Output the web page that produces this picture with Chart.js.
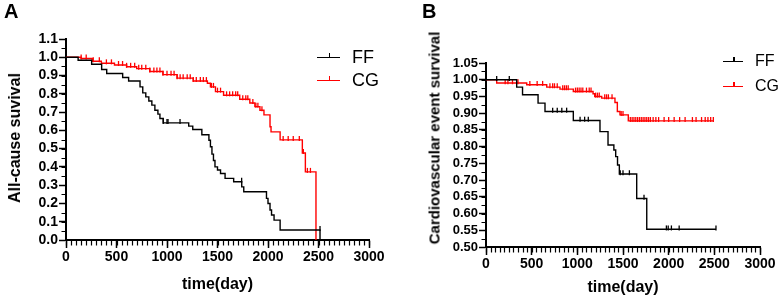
<!DOCTYPE html>
<html>
<head>
<meta charset="utf-8">
<script src="https://cdn.jsdelivr.net/npm/chart.js@4"></script>
<style>
  body { margin: 0; background: #fff; font-family: 'Liberation Sans', Arial, sans-serif; }
  #wrap { position: relative; width: 778px; height: 299px; overflow: hidden; }
  canvas { position: absolute; top: 0; }
  .lbl { position: absolute; font-weight: bold; color: #000; }
  .ytitle { position: absolute; font-weight: bold; white-space: nowrap; transform: translate(-50%, -50%) rotate(-90deg); }
  .leg { position: absolute; display: flex; align-items: center; color: #000; }
  .leg-ln { position: relative; height: 0; border-top: 1.5px solid; margin-right: 12px; }
  .leg-ln::after { content: ''; position: absolute; left: 50%; top: -5px; width: 1.5px; height: 4px; background: currentColor; }
</style>
</head>
<body>
<div id="wrap">
  <canvas id="cA" width="388" height="299" style="left:0"></canvas>
  <canvas id="cB" width="388" height="299" style="left:390px"></canvas>
  <div class="lbl" style="left:4px;top:0px;font-size:20px">A</div>
  <div class="lbl" style="left:422px;top:0px;font-size:20px">B</div>
  <div class="ytitle" style="left:15px;top:138px;font-size:16px">All-cause suvival</div>
  <div class="ytitle" style="left:434px;top:138px;font-size:15px">Cardiovascular event survival</div>
  <div class="leg" style="left:317px;top:47px;font-size:18px"><span class="leg-ln" style="width:23px;color:#000"></span>FF</div>
  <div class="leg" style="left:317px;top:70px;font-size:18px"><span class="leg-ln" style="width:23px;color:#f00"></span>CG</div>
  <div class="leg" style="left:723px;top:52px;font-size:16px"><span class="leg-ln" style="width:20px;color:#000"></span>FF</div>
  <div class="leg" style="left:723px;top:77px;font-size:16px"><span class="leg-ln" style="width:20px;color:#f00"></span>CG</div>
</div>
<script>
// panel A - all-cause survival (time in days, survival after each step)
const ffA_t = [0, 120, 254, 353, 403, 561, 620, 733, 760, 790, 820, 850, 880, 910, 930, 963, 1215, 1255, 1345, 1415, 1430, 1445, 1460, 1475, 1500, 1530, 1575, 1660, 1740, 1760, 1985, 2000, 2020, 2035, 2060, 2120, 2515];
const ffA_s = [1.0, 0.984, 0.962, 0.933, 0.911, 0.889, 0.870, 0.838, 0.805, 0.783, 0.761, 0.738, 0.710, 0.689, 0.665, 0.641, 0.623, 0.605, 0.576, 0.546, 0.510, 0.470, 0.435, 0.400, 0.383, 0.364, 0.337, 0.319, 0.291, 0.264, 0.228, 0.200, 0.164, 0.137, 0.109, 0.055, 0.0];
const ffA_cens = [963, 1000, 1010, 1129, 1739, 2515];

const cgA_t = [0, 150, 260, 350, 480, 600, 700, 830, 960, 1100, 1260, 1400, 1430, 1480, 1560, 1720, 1820, 1870, 1920, 1960, 2020, 2030, 2120, 2340, 2370, 2475];
const cgA_s = [1.0, 0.993, 0.978, 0.967, 0.958, 0.948, 0.938, 0.922, 0.905, 0.886, 0.870, 0.858, 0.838, 0.812, 0.792, 0.770, 0.750, 0.730, 0.710, 0.685, 0.620, 0.592, 0.548, 0.476, 0.373, 0.0];
const cgA_cens = [150, 200, 270, 330, 400, 450, 520, 560, 600, 640, 680, 720, 750, 790, 830, 870, 900, 930, 960, 1000, 1040, 1070, 1100, 1130, 1160, 1200, 1230, 1260, 1290, 1330, 1360, 1390, 1440, 1460, 1500, 1530, 1590, 1620, 1650, 1680, 1700, 1750, 1780, 1800, 1850, 1880, 1900, 1940, 2150, 2200, 2250, 2310, 2350, 2390, 2420];

// panel B - cardiovascular event survival
const ffB_t = [0, 336, 400, 570, 646, 956, 1248, 1336, 1400, 1420, 1440, 1460, 1650, 1760, 2518];
const ffB_s = [1.0, 0.978, 0.955, 0.930, 0.905, 0.878, 0.845, 0.805, 0.790, 0.770, 0.745, 0.718, 0.645, 0.553, 0.553];
const ffB_cens = [117, 255, 730, 780, 830, 883, 1030, 1080, 1120, 1470, 1500, 1570, 1730, 1975, 1995, 2030, 2115, 2518];

const cgB_t = [0, 117, 446, 665, 810, 956, 1172, 1190, 1267, 1412, 1438, 1467, 1558, 2489];
const cgB_s = [1.0, 0.990, 0.985, 0.978, 0.972, 0.965, 0.958, 0.950, 0.945, 0.932, 0.905, 0.895, 0.877, 0.877];
const cgB_cens = [210, 240, 290, 350, 480, 560, 620, 700, 730, 750, 780, 840, 860, 880, 900, 980, 1000, 1020, 1040, 1060, 1100, 1130, 1150, 1200, 1220, 1240, 1300, 1320, 1340, 1380, 1480, 1500, 1580, 1600, 1620, 1640, 1660, 1680, 1700, 1720, 1740, 1760, 1780, 1800, 1830, 1860, 1890, 1950, 2000, 2060, 2120, 2180, 2260, 2300, 2360, 2400, 2430, 2460, 2489];

const xTicks = [0, 500, 1000, 1500, 2000, 2500, 3000];
const yTicksA = [0.0, 0.1, 0.2, 0.3, 0.4, 0.5, 0.6, 0.7, 0.8, 0.9, 1.0, 1.1];
const yTicksB = [0.50, 0.55, 0.60, 0.65, 0.70, 0.75, 0.80, 0.85, 0.90, 0.95, 1.00, 1.05];

function survAt(ts, ss, t) {
  let s = ss[0];
  for (let i = 0; i < ts.length; i++) if (ts[i] <= t && ss[i] > 0) s = ss[i];
  return s;
}

function curve(ts, ss, color) {
  return { data: ts.map((t, i) => ({ x: t, y: ss[i] })), showLine: true, stepped: true,
    borderColor: color, borderWidth: 1.4, pointRadius: 0, clip: false };
}
function censor(ts, ss, cens, color, off) {
  return { data: cens.map(t => ({ x: t, y: survAt(ts, ss, t) + off })), showLine: false,
    pointStyle: 'line', rotation: 90, radius: 2.5, borderColor: color, borderWidth: 1.3, clip: false };
}

// minor tick marks between the labelled ones
function minorTicks(xStep, yStep) {
  return {
    id: 'minorTicks',
    afterDraw(chart) {
      const { ctx, scales: { x, y } } = chart;
      ctx.save();
      ctx.strokeStyle = '#000'; ctx.lineWidth = 1.2;
      ctx.beginPath();
      for (let v = x.min; v <= x.max + 1e-6; v += xStep) {
        const p = Math.round(x.getPixelForValue(v)) + 0.5;
        ctx.moveTo(p, x.top); ctx.lineTo(p, x.top + 5.5);
      }
      for (let v = y.min; v <= y.max + 1e-6; v += yStep) {
        const p = Math.round(y.getPixelForValue(v)) + 0.5;
        ctx.moveTo(y.right, p); ctx.lineTo(y.right - 4.5, p);
      }
      ctx.stroke();
      ctx.restore();
    }
  };
}

function makeChart(id, datasets, cfg) {
  return new Chart(document.getElementById(id), {
    type: 'scatter',
    data: { datasets },
    plugins: [minorTicks(50, cfg.yStep / 2)],
    options: {
      responsive: false, animation: false, devicePixelRatio: 1,
      layout: { padding: { top: cfg.top, right: cfg.right, left: 0, bottom: 0 } },
      plugins: { legend: { display: false }, tooltip: { enabled: false } },
      scales: {
        x: {
          min: 0, max: 3000,
          afterBuildTicks: s => { s.ticks = xTicks.map(v => ({ value: v })); },
          afterFit: s => { s.height = cfg.xh; },
          border: { color: '#000', width: 2 },
          grid: { drawOnChartArea: false, tickLength: 8, tickColor: '#000', tickWidth: 1.5 },
          ticks: { color: '#000', font: { family: 'Liberation Sans', weight: 'bold', size: 14 }, padding: 1,
            maxRotation: 0, autoSkip: false, callback: v => String(v) },
          title: { display: true, text: 'time(day)', color: '#000', padding: { top: 0, bottom: cfg.tpad },
            font: { family: 'Liberation Sans', weight: 'bold', size: 16 } },
        },
        y: {
          min: cfg.ymin, max: cfg.ymax,
          afterBuildTicks: s => { s.ticks = cfg.yTicks.map(v => ({ value: v })); },
          ticks: { color: '#000', padding: 1, autoSkip: false,
            font: { family: 'Liberation Sans', weight: 'bold', size: cfg.yfont },
            callback: v => v.toFixed(cfg.dec) },
          afterFit: s => { s.width = cfg.yw; },
          border: { color: '#000', width: 2 },
          grid: { drawOnChartArea: false, tickLength: 7, tickColor: '#000', tickWidth: 1.5 },
        },
      },
    },
  });
}

makeChart('cA', [
  curve(ffA_t, ffA_s, '#000'), censor(ffA_t, ffA_s, ffA_cens, '#000', 0.008),
  curve(cgA_t, cgA_s, '#f00'), censor(cgA_t, cgA_s, cgA_cens, '#f00', 0.008),
], { top: 39, right: 19, xh: 59, yw: 66, ymin: 0, ymax: 1.1, yStep: 0.1, yTicks: yTicksA, dec: 1, yfont: 14, tpad: 5 });

makeChart('cB', [
  curve(ffB_t, ffB_s, '#000'), censor(ffB_t, ffB_s, ffB_cens, '#000', 0.004),
  curve(cgB_t, cgB_s, '#f00'), censor(cgB_t, cgB_s, cgB_cens, '#f00', 0.004),
], { top: 63, right: 18, xh: 52, yw: 96, ymin: 0.5, ymax: 1.05, yStep: 0.05, yTicks: yTicksB, dec: 2, yfont: 13, tpad: 2 });
</script>
</body>
</html>
